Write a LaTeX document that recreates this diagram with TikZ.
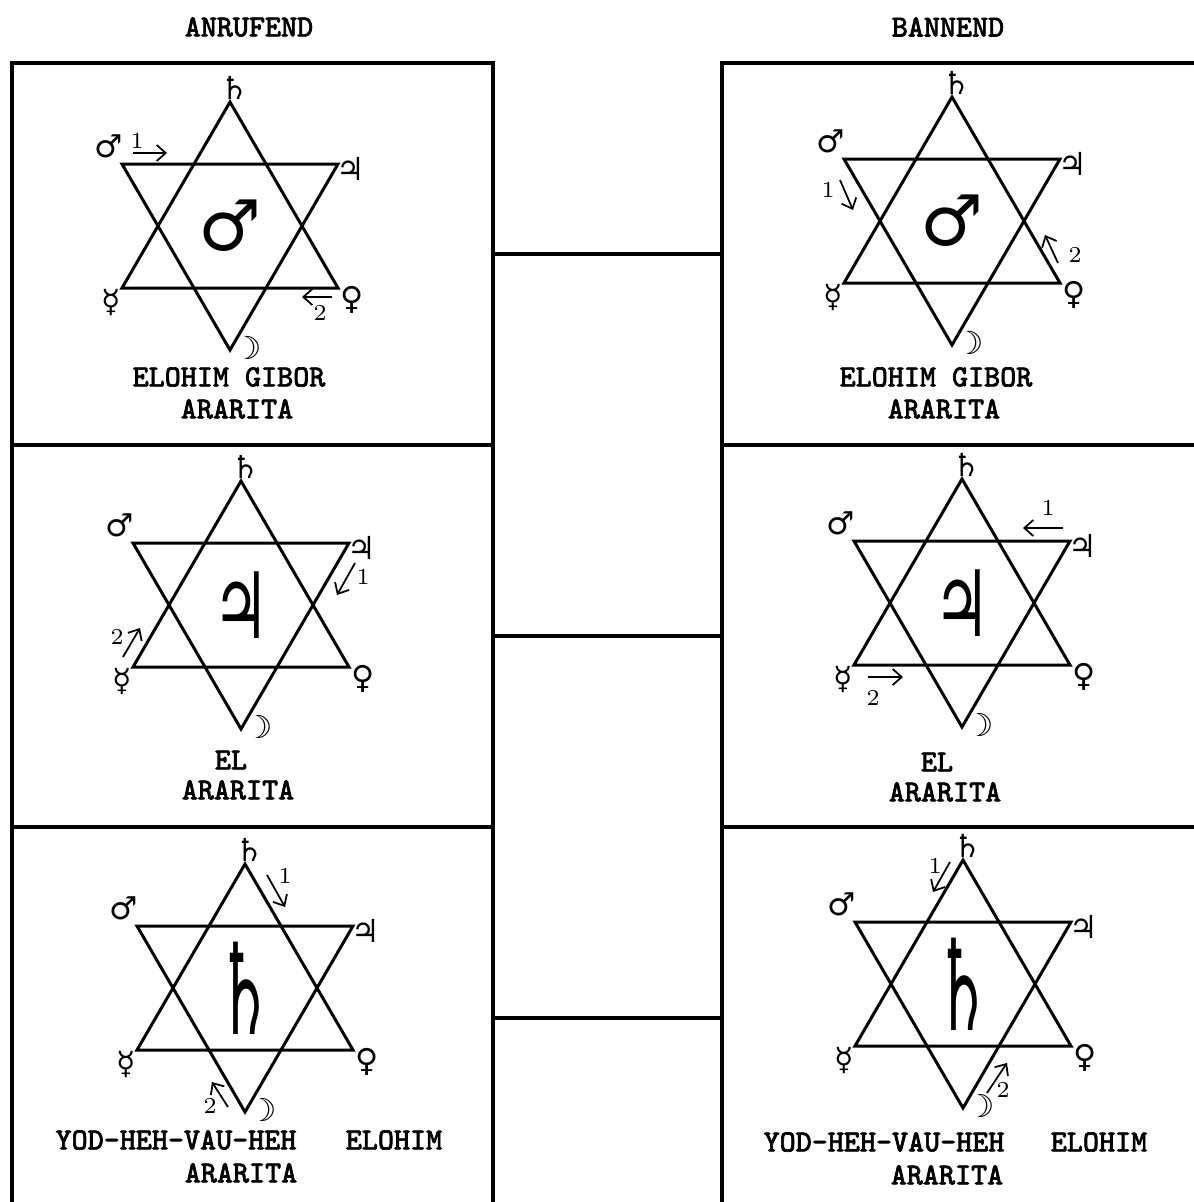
\documentclass[tikz,border=0pt]{standalone}
\usepackage{fontspec}
\usepackage{graphicx}
\usepackage{tikz}
\usetikzlibrary{arrows.meta,positioning}
\newfontfamily\signfont{DejaVu Sans}
\newfontfamily\plaquefont{Latin Modern Mono}[FakeBold=2.2]
\tikzset{
  panel/.style={rectangle, draw=black, line width=1.1pt, inner sep=0pt,
    minimum width=48.1mm, minimum height=38.2mm},
  link/.style={draw=black, line width=1pt},
  hexline/.style={line width=0.85pt, line join=miter},
  planet/.style={font=\signfont\fontsize{9}{9}\selectfont, inner sep=0pt},
  bigsign/.style={font=\signfont, inner sep=0pt},
  divname/.style={font=\plaquefont\fontsize{8.7}{10}\selectfont, inner sep=0pt},
  turn/.style={-{Straight Barb[length=0.9mm,width=1.6mm]}, line width=0.5pt},
  num/.style={font=\fontsize{6.5}{7}\selectfont, inner sep=0pt},
}
\begin{document}
\begin{tikzpicture}[x=0.1mm, y=-0.1mm]
  \useasboundingbox (0,0) rectangle (1193,1202);
  % headers
  \node[divname] (anrufend) at (249,27) {ANRUFEND};
  \node[divname] (bannend) at (948,27) {BANNEND};
  % panels, left column calls, right column banishes
  \node[panel] (L1) at (252.5,254) {};
  \node[panel] (L2) at (252.5,636) {};
  \node[panel] (L3) at (252.5,1018) {};
  \node[panel] (R1) at (962.5,254) {};
  \node[panel] (R2) at (962.5,636) {};
  \node[panel] (R3) at (962.5,1018) {};
  \draw[link] (L1) -- (R1);
  \draw[link] (L2) -- (R2);
  \draw[link] (L3) -- (R3);
  % hexagrams with the planets at their points
  \foreach \p/\cx/\cy in {A1/230/226, B1/952/221, A2/241/605, B2/962/603, A3/245/988, B3/963/984} {
    \begin{scope}[shift={(\cx,\cy)}]
      \coordinate (\p) at (0,0);
      \coordinate (\p-sa) at (0,-124);
      \coordinate (\p-ma) at (-108,-62);
      \coordinate (\p-ju) at (108,-62);
      \coordinate (\p-me) at (-108,62);
      \coordinate (\p-ve) at (108,62);
      \coordinate (\p-mo) at (0,124);
      \draw[hexline] (\p-sa) -- (\p-me) -- (\p-ve) -- cycle;
      \draw[hexline] (\p-ma) -- (\p-ju) -- (\p-mo) -- cycle;
      \node[planet] (\p-lsa) at (5,-138) {♄};
      \node[planet] (\p-lma) at (-121,-80) {♂};
      \node[planet] (\p-lju) at (121,-57) {♃};
      \node[planet] (\p-lme) at (-119,77) {☿};
      \node[planet] (\p-lve) at (122,74) {♀};
      \node[planet] (\p-lmo) at (18,122) {☽};
    \end{scope}
  }
  % planet of each row in the middle
  \node[bigsign, font=\signfont\fontsize{20}{20}\selectfont] (A1-sign) at (A1) {♂};
  \node[bigsign, font=\signfont\fontsize{20}{20}\selectfont] (B1-sign) at (B1) {♂};
  \node[bigsign, font=\signfont\fontsize{26}{26}\selectfont] (A2-sign) at (A2) {\scalebox{0.7}[1]{♃}};
  \node[bigsign, font=\signfont\fontsize{26}{26}\selectfont] (B2-sign) at (B2) {\scalebox{0.7}[1]{♃}};
  \node[bigsign, font=\signfont\fontsize{36}{36}\selectfont] (A3-sign) at (A3) {\scalebox{0.5}[1]{♄}};
  \node[bigsign, font=\signfont\fontsize{36}{36}\selectfont] (B3-sign) at (B3) {\scalebox{0.5}[1]{♄}};
  % order of the strokes
  \foreach \a/\sx/\sy/\ex/\ey/\n/\nx/\ny in {
      A1a/133/153/167/153/1/137/141, A1b/332/297/302/297/2/320/313,
      B1a/840/180/853/210/1/828/190, B1b/1058/263/1045/235/2/1075/255,
      A2a/355/563/337/595/1/363/577, A2b/123/657/140/628/2/117/637,
      B2a/1063/528/1023/528/1/1048/508, B2b/868/677/903/677/2/873/698,
      A3a/267/875/285/907/1/285/876, A3b/228/1107/212/1082/2/210/1106,
      B3a/950/862/933/892/1/935/866, B3b/987/1093/1007/1063/2/1003/1090} {
    \coordinate (\a-from) at (\sx,\sy);
    \coordinate (\a-to) at (\ex,\ey);
    \draw[turn] (\a-from) -- (\a-to);
    \node[num] (\a-n) at (\nx,\ny) {\n};
  }
  % divine names
  \node[divname] (A1-name) at (229,377) {ELOHIM GIBOR};
  \node[divname] (A1-arar) at (237,409) {ARARITA};
  \node[divname] (B1-name) at (936,377) {ELOHIM GIBOR};
  \node[divname] (B1-arar) at (944,409) {ARARITA};
  \node[divname] (A2-name) at (231,760) {EL};
  \node[divname] (A2-arar) at (238,790) {ARARITA};
  \node[divname] (B2-name) at (937,762) {EL};
  \node[divname] (B2-arar) at (945,792) {ARARITA};
  \node[divname] (A3-name) at (176,1140) {YOD-HEH-VAU-HEH};
  \node[divname] (A3-elo) at (394,1140) {ELOHIM};
  \node[divname] (A3-arar) at (241,1173) {ARARITA};
  \node[divname] (B3-name) at (884,1142) {YOD-HEH-VAU-HEH};
  \node[divname] (B3-elo) at (1099,1142) {ELOHIM};
  \node[divname] (B3-arar) at (947,1175) {ARARITA};
\end{tikzpicture}
\end{document}
